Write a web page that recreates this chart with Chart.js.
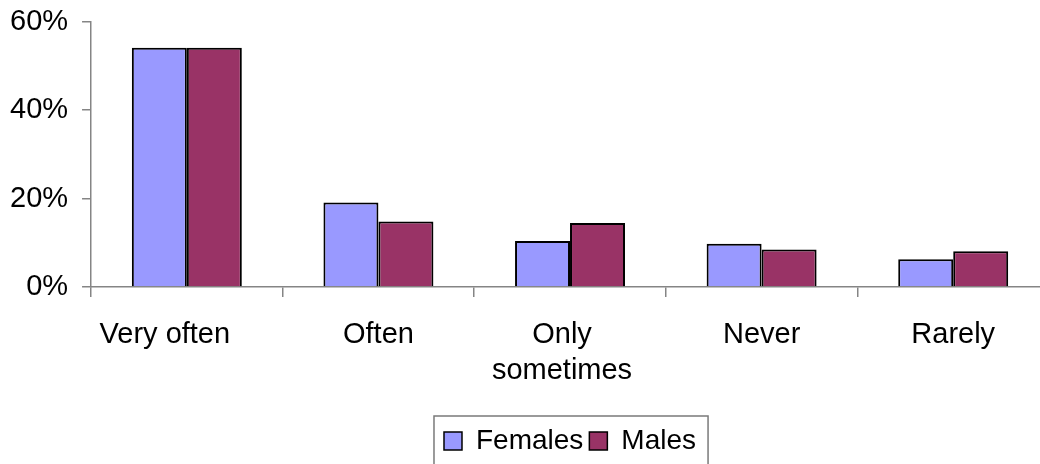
<!DOCTYPE html>
<html>
<head>
<meta charset="utf-8">
<script src="https://cdn.jsdelivr.net/npm/chart.js@4/dist/chart.umd.min.js"></script>
<style>
  html, body { margin: 0; padding: 0; background: #ffffff; overflow: hidden; }
  #wrap { width: 1049px; height: 464px; position: relative; }
</style>
</head>
<body>
<div id="wrap"><canvas id="chart"></canvas></div>
<script>
// Answer categories along the x axis
const categories = ['Very often', 'Often', ['Only', 'sometimes'], 'Never', 'Rarely'];
// Share of respondents (%) per answer
const females = [54.1, 19.1, 10.4, 9.8, 6.3];
const males = [54.1, 14.8, 14.5, 8.5, 8.1];
// Value axis ticks
const yTicks = [0, 20, 40, 60];

const FONT = "'Liberation Sans', Arial, sans-serif";
const AXIS_GREY = '#858585';

// The two widest category labels sit a little left of their slot centre
const labelNudge = {
  id: 'labelNudge',
  beforeDraw(chart) {
    const shift = { 0: -22, 2: -8 };
    const items = chart.scales.x.getLabelItems();
    items.forEach((item, i) => {
      if (shift[i] && item.options && item.options.translation) {
        item.options.translation[0] += shift[i];
      }
    });
  }
};

// Outline around the legend, left open at the bottom edge of the page
const legendFrame = {
  id: 'legendFrame',
  afterDraw(chart) {
    const lg = chart.legend;
    if (!lg || !lg.legendHitBoxes || !lg.legendHitBoxes.length) return;
    const boxes = lg.legendHitBoxes;
    const first = boxes[0];
    const last = boxes[boxes.length - 1];
    const ctx = chart.ctx;
    const left = first.left - 10;
    const right = last.left + last.width + 12;
    const top = first.top - 11;
    ctx.save();
    ctx.strokeStyle = '#7a7a7a';
    ctx.lineWidth = 1.5;
    ctx.beginPath();
    ctx.moveTo(left, chart.height + 5);
    ctx.lineTo(left, top);
    ctx.lineTo(right, top);
    ctx.lineTo(right, chart.height + 5);
    ctx.stroke();
    ctx.restore();
  }
};

new Chart(document.getElementById('chart'), {
  type: 'bar',
  data: {
    labels: categories,
    datasets: [
      {
        label: 'Females',
        data: females,
        backgroundColor: '#9999ff',
        borderColor: '#000000',
        borderWidth: 2,
        borderSkipped: 'bottom'
      },
      {
        label: 'Males',
        data: males,
        backgroundColor: '#993366',
        borderColor: '#000000',
        borderWidth: 2,
        borderSkipped: 'bottom'
      }
    ]
  },
  options: {
    responsive: true,
    maintainAspectRatio: false,
    animation: false,
    devicePixelRatio: 1,
    layout: { padding: { left: -4, right: 0, top: 0, bottom: -1 } },
    datasets: {
      bar: { categoryPercentage: 0.574, barPercentage: 1.0 }
    },
    scales: {
      x: {
        type: 'category',
        offset: true,
        afterFit(scale) {
          // extra room between the category labels and the legend
          scale.height += 12;
        },
        grid: {
          display: true,
          offset: true,
          drawOnChartArea: false,
          drawTicks: true,
          tickLength: 10,
          color: AXIS_GREY,
          lineWidth: 1.5
        },
        border: { display: true, color: AXIS_GREY, width: 1.5 },
        ticks: {
          color: '#000000',
          padding: 20,
          maxRotation: 0,
          autoSkip: false,
          font: { family: FONT, size: 29, lineHeight: 1.24 }
        }
      },
      y: {
        min: 0,
        max: 60,
        afterBuildTicks(scale) {
          scale.ticks = yTicks.map(v => ({ value: v }));
        },
        grid: {
          display: true,
          drawOnChartArea: false,
          drawTicks: true,
          tickLength: 9,
          color: AXIS_GREY,
          lineWidth: 1.5
        },
        border: { display: true, color: AXIS_GREY, width: 1.5 },
        ticks: {
          color: '#000000',
          padding: 14,
          callback: v => v + '%',
          font: { family: FONT, size: 29, lineHeight: 0.53 }
        }
      }
    },
    plugins: {
      tooltip: { enabled: false },
      legend: {
        position: 'bottom',
        fullSize: false,
        align: 'center',
        labels: {
          boxWidth: 18,
          boxHeight: 18,
          padding: 6,
          color: '#000000',
          font: { family: FONT, size: 28 },
          generateLabels(chart) {
            return chart.data.datasets.map((ds, i) => ({
              text: ds.label,
              fillStyle: ds.backgroundColor,
              strokeStyle: '#000000',
              lineWidth: 1.5,
              datasetIndex: i,
              hidden: false
            }));
          }
        }
      }
    }
  },
  plugins: [labelNudge, legendFrame]
});
</script>
</body>
</html>
